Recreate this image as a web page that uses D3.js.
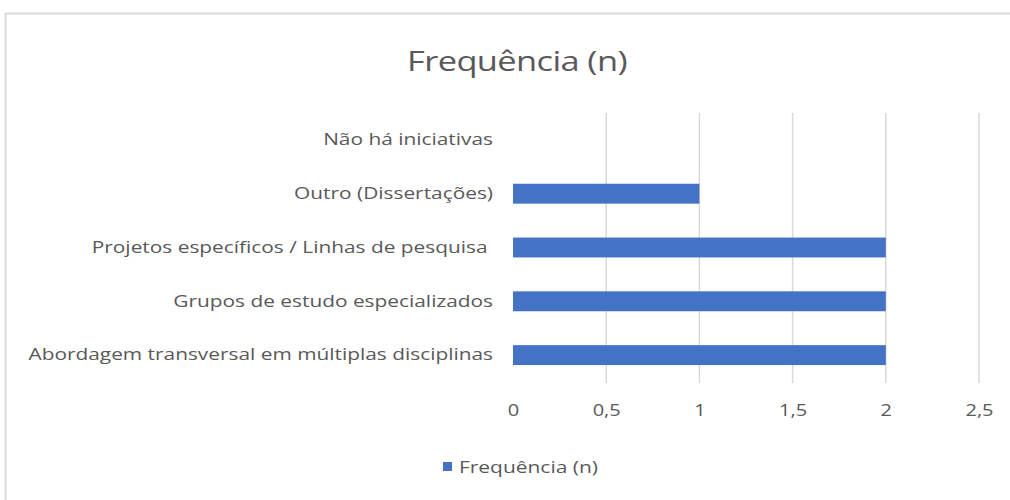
<!DOCTYPE html>
<html>
<head>
<meta charset="utf-8">
<script src="https://cdn.jsdelivr.net/npm/d3@7"></script>
<style>
  body { margin: 0; background: #fff; }
  text { font-family: "Open Sans", "Noto Sans", sans-serif; fill: #595959; white-space: pre; }
</style>
</head>
<body>
<script>
'use strict';

// categories top to bottom, as they appear in the chart
const categories = [
  "Não há iniciativas",
  "Outro (Dissertações)",
  "Projetos específicos / Linhas de pesquisa ",
  "Grupos de estudo especializados",
  "Abordagem transversal em múltiplas disciplinas"
];
const values = [0, 1, 2, 2, 2];
const ticks = [0, 0.5, 1, 1.5, 2, 2.5];
const seriesName = "Frequência (n)";

(function() {
  // the picture is a bit stretched sideways, so text gets widened too
  const stretch = 1.25;

  let svg = d3.select('body')
    .append('svg')
    .attr('width', 1010)
    .attr('height', 500);

  // chart area border
  svg.append('rect')
    .attr('x', 5.5).attr('y', 13.5)
    .attr('width', 1030).attr('height', 520)
    .attr('fill', 'white')
    .attr('stroke', '#d9d9d9')
    .attr('stroke-width', 2);

  let xScale = d3.scaleLinear()
    .domain([0, 2.5])
    .range([513, 979]);

  let yScale = d3.scaleBand()
    .domain(categories)
    .range([113, 382])
    .paddingInner(0.63)
    .paddingOuter(0.315);

  // gridlines
  svg.append('g')
    .selectAll('line')
    .data(ticks.filter(t => t > 0))
    .enter()
    .append('line')
    .attr('x1', d => xScale(d)).attr('x2', d => xScale(d))
    .attr('y1', 113).attr('y2', 383)
    .attr('stroke', '#d9d9d9')
    .attr('stroke-width', 1.5);

  // bars
  svg.selectAll('.bar')
    .data(values)
    .enter()
    .append('rect')
    .attr('x', xScale(0))
    .attr('y', (d, i) => yScale(categories[i]))
    .attr('width', d => xScale(d) - xScale(0))
    .attr('height', yScale.bandwidth())
    .attr('fill', '#4472c4');

  // x tick labels
  let xAxis = d3.axisBottom(xScale)
    .tickValues(ticks)
    .tickSize(0)
    .tickPadding(0)
    .tickFormat(d => String(d).replace('.', ','));
  let gx = svg.append('g')
    .attr('transform', 'translate(0, 405)')
    .call(xAxis);
  gx.select('.domain').remove();
  gx.selectAll('text')
    .attr('transform', 'scale(' + stretch + ',1)')
    .style('font-size', '16px')
    .style('fill', '#595959');

  // category labels
  let yAxis = d3.axisLeft(yScale).tickSize(0).tickPadding(0);
  let gy = svg.append('g')
    .attr('transform', 'translate(493, 0)')
    .call(yAxis);
  gy.select('.domain').remove();
  gy.selectAll('text')
    .attr('transform', 'scale(1.265,1)')
    .style('font-size', '16.5px')
    .style('fill', '#595959');

  // title
  svg.append('text')
    .attr('transform', 'translate(517, 71) scale(1.23,1)')
    .attr('text-anchor', 'middle')
    .style('font-size', '28px')
    .style('letter-spacing', '-0.5px')
    .text(seriesName);

  // legend
  svg.append('rect')
    .attr('x', 443).attr('y', 462)
    .attr('width', 9).attr('height', 9)
    .attr('fill', '#4472c4');
  svg.append('text')
    .attr('transform', 'translate(459, 473) scale(1.31,1)')
    .style('font-size', '16px')
    .text(seriesName);
})();
</script>
</body>
</html>
